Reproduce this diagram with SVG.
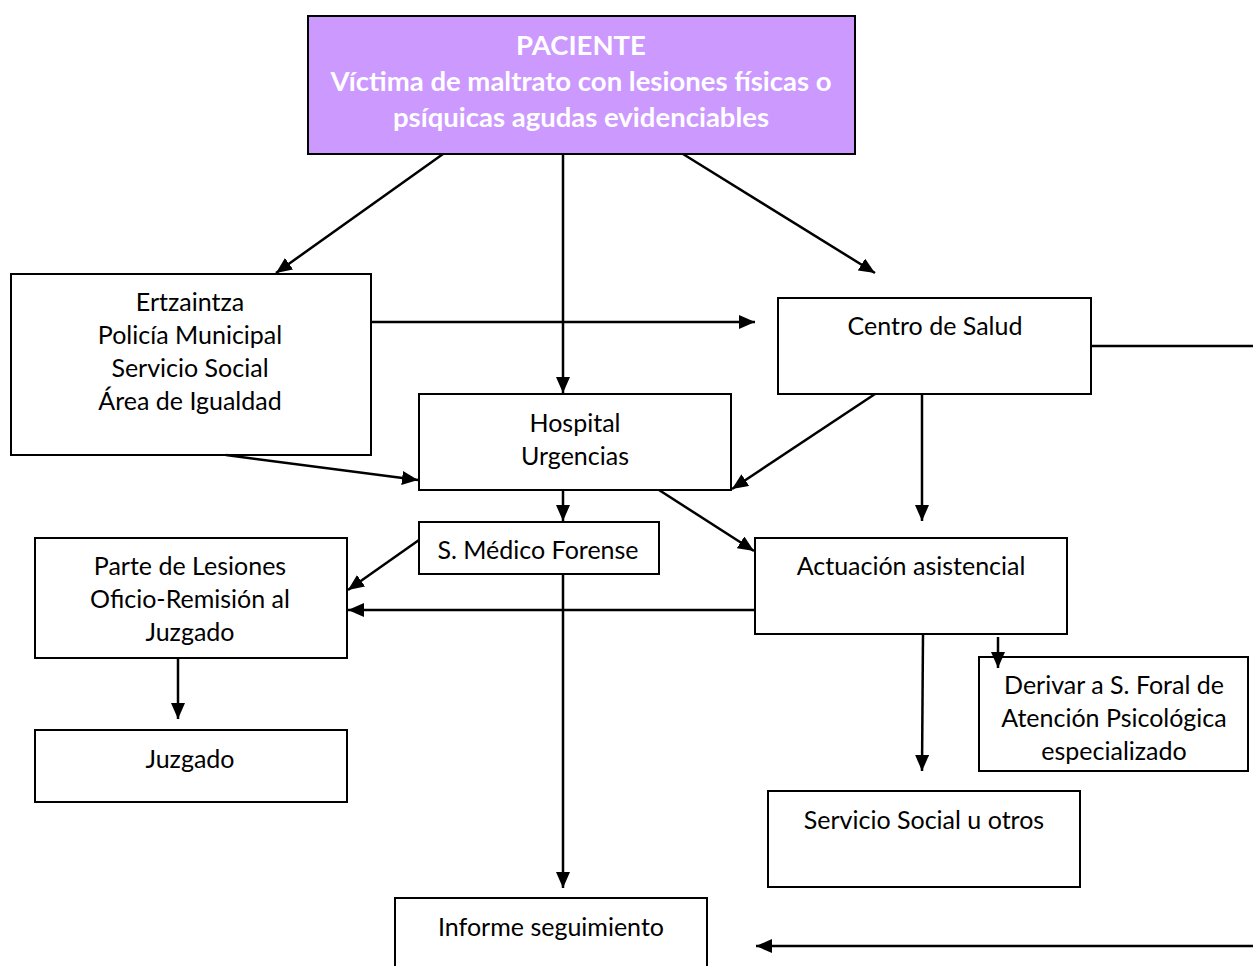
<svg xmlns="http://www.w3.org/2000/svg" width="1253" height="966" viewBox="0 0 1253 966">
<defs>
<marker id="ah" viewBox="0 0 16 14" refX="16" refY="7" markerWidth="16" markerHeight="14" markerUnits="userSpaceOnUse" orient="auto">
<path d="M0,0 L16,7 L0,14 Z" fill="#000"/>
</marker>
<style>
.box{fill:#fff;stroke:#000;stroke-width:2}
.top{fill:#cc99ff;stroke:#000;stroke-width:2}
.t{font-family:Lato,"Liberation Sans",Arial,sans-serif;font-size:25px;fill:#000;text-anchor:middle}
.tw{font-family:Lato,"Liberation Sans",Arial,sans-serif;font-size:27.5px;font-weight:bold;fill:#fff;text-anchor:middle}
.c{stroke:#000;stroke-width:2.5;fill:none}
.a{marker-end:url(#ah)}
</style>
</defs>
<rect width="1253" height="966" fill="#fff"/>
<g id="paciente">
<rect class="top" x="308" y="16" width="547" height="138"/>
<text class="tw" x="581" y="55">PACIENTE</text>
<text class="tw" x="581" y="91">Víctima de maltrato con lesiones físicas o</text>
<text class="tw" x="581" y="127">psíquicas agudas evidenciables</text>
</g>
<g id="ertzaintza">
<rect class="box" x="11" y="274" width="360" height="181"/>
<text class="t" x="190" y="311">Ertzaintza</text>
<text class="t" x="190" y="344">Policía Municipal</text>
<text class="t" x="190" y="377">Servicio Social</text>
<text class="t" x="190" y="410">Área de Igualdad</text>
</g>
<g id="centro-salud">
<rect class="box" x="778" y="298" width="313" height="96"/>
<text class="t" x="935" y="335">Centro de Salud</text>
</g>
<g id="hospital">
<rect class="box" x="419" y="394" width="312" height="96"/>
<text class="t" x="575" y="432">Hospital</text>
<text class="t" x="575" y="465">Urgencias</text>
</g>
<g id="forense">
<rect class="box" x="419" y="522" width="240" height="52"/>
<text class="t" x="538" y="559">S. Médico Forense</text>
</g>
<g id="parte-lesiones">
<rect class="box" x="35" y="538" width="312" height="120"/>
<text class="t" x="190" y="575">Parte de Lesiones</text>
<text class="t" x="190" y="608">Oficio-Remisión al</text>
<text class="t" x="190" y="641">Juzgado</text>
</g>
<g id="juzgado">
<rect class="box" x="35" y="730" width="312" height="72"/>
<text class="t" x="190" y="768">Juzgado</text>
</g>
<g id="actuacion">
<rect class="box" x="755" y="538" width="312" height="96"/>
<text class="t" x="911" y="575">Actuación asistencial</text>
</g>
<g id="derivar">
<rect class="box" x="979" y="657" width="269" height="114"/>
<text class="t" x="1114" y="694">Derivar a S. Foral de</text>
<text class="t" x="1114" y="727">Atención Psicológica</text>
<text class="t" x="1114" y="760">especializado</text>
</g>
<g id="servicio-social">
<rect class="box" x="768" y="791" width="312" height="96"/>
<text class="t" x="924" y="829">Servicio Social u otros</text>
</g>
<g id="informe">
<rect class="box" x="395" y="898" width="312" height="80"/>
<text class="t" x="551" y="936">Informe seguimiento</text>
</g>
<g id="connectors">
<line class="c a" x1="443" y1="154" x2="276" y2="273"/>
<line class="c a" x1="563" y1="154" x2="563" y2="393"/>
<line class="c a" x1="683" y1="154" x2="875" y2="273"/>
<line class="c a" x1="371" y1="322" x2="755" y2="322"/>
<line class="c" x1="1091" y1="346" x2="1253" y2="346"/>
<line class="c a" x1="226" y1="455" x2="418" y2="480"/>
<line class="c a" x1="875" y1="394" x2="732" y2="489"/>
<line class="c a" x1="922" y1="394" x2="922" y2="521"/>
<line class="c a" x1="563" y1="490" x2="563" y2="521"/>
<line class="c a" x1="659" y1="490" x2="754" y2="551"/>
<line class="c a" x1="419" y1="540" x2="348" y2="590"/>
<line class="c a" x1="755" y1="610" x2="348" y2="610"/>
<line class="c a" x1="563" y1="574" x2="563" y2="888"/>
<line class="c a" x1="178" y1="658" x2="178" y2="719"/>
<line class="c a" x1="923" y1="634" x2="922" y2="771"/>
<line class="c a" x1="998" y1="637" x2="998" y2="668"/>
<line class="c a" x1="1253" y1="946" x2="756" y2="946"/>
</g>
</svg>
